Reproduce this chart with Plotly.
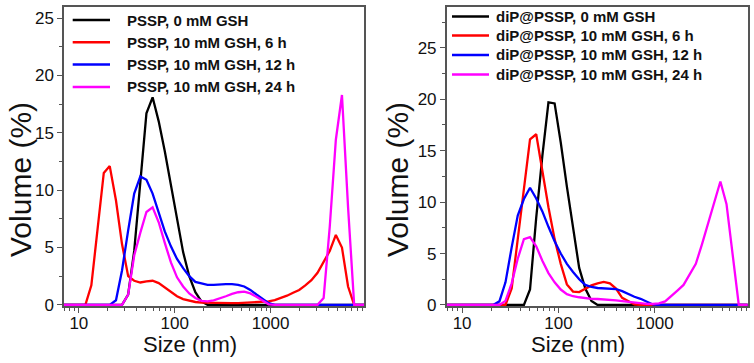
import plotly.graph_objects as go

# Size bins (nm), log-spaced DLS bins
sizes = [4.8, 5.6, 6.5, 7.5, 8.7, 10.1, 11.7, 13.5, 15.7, 18.2,
         21.0, 24.4, 28.2, 32.7, 37.8, 43.8, 50.7, 58.8, 68.1, 78.8,
         91.3, 105.7, 122.4, 141.8, 164.2, 190.1, 220.2, 255.0, 295.3, 342.0,
         396.1, 458.7, 531.2, 615.1, 712.4, 825.0, 955.4, 1106, 1281, 1484,
         1718, 1990, 2305, 2669, 3091, 3580, 4145, 4801, 5560, 6439,
         7456, 8635, 10000]

# Left panel: PSSP
pssp_0 = [0, 0, 0, 0, 0, 0, 0, 0, 0, 0,
          0, 0, 0, 0.9, 4.7, 10.7, 16.7, 18.1, 16.0, 13.4,
          10.4, 7.3, 4.6, 2.5, 1.1, 0.3, 0, 0, 0, 0,
          0, 0, 0, 0, 0, 0, 0, 0, 0, 0,
          0, 0, 0, 0, 0, 0, 0, 0, 0, 0,
          0, 0, 0]
pssp_6h = [0, 0, 0, 0, 0, 0, 0, 1.7, 6.8, 11.5,
           12.1, 9.1, 5.3, 2.5, 2.1, 1.95, 2.05, 2.1, 1.9, 1.5,
           1.1, 0.75, 0.5, 0.35, 0.25, 0.2, 0.18, 0.15, 0.15, 0.15,
           0.15, 0.15, 0.17, 0.18, 0.2, 0.25, 0.3, 0.42, 0.58, 0.8,
           1.05, 1.3, 1.7, 2.15, 2.8, 3.7, 4.7, 6.1, 5.0, 1.6,
           0, 0, 0]
pssp_12h = [0, 0, 0, 0, 0, 0, 0, 0, 0, 0,
            0, 0.4, 3.0, 6.5, 9.7, 11.2, 10.9, 9.7, 8.0, 6.4,
            5.1, 4.0, 3.2, 2.5, 2.0, 1.85, 1.75, 1.75, 1.8, 1.8,
            1.8, 1.75, 1.6, 1.3, 0.9, 0.5, 0.15, 0, 0, 0,
            0, 0, 0, 0, 0, 0, 0, 0, 0, 0,
            0, 0, 0]
pssp_24h = [0, 0, 0, 0, 0, 0, 0, 0, 0, 0,
            0, 0, 0, 0.9, 4.3, 6.3, 8.1, 8.5, 7.2, 5.4,
            3.7, 2.4, 1.6, 1.0, 0.6, 0.35, 0.3, 0.4, 0.55, 0.75,
            0.95, 1.1, 1.15, 1.0, 0.7, 0.35, 0.05, 0, 0, 0,
            0, 0, 0, 0, 0, 0.6, 6.8, 14.4, 18.3, 8.5,
            0, 0, 0]

# Right panel: diP@PSSP
dip_0 = [0, 0, 0, 0, 0, 0, 0, 0, 0, 0,
         0, 0, 0, 0, 0, 0, 1.5, 8.5, 14.5, 19.7,
         19.6, 15.8, 11.5, 7.4, 3.6, 1.6, 0.4, 0, 0, 0,
         0, 0, 0, 0, 0, 0, 0, 0, 0, 0,
         0, 0, 0, 0, 0, 0, 0, 0, 0, 0,
         0, 0, 0]
dip_6h = [0, 0, 0, 0, 0, 0, 0, 0, 0, 0,
          0, 0, 0, 1.6, 6.3, 11.2, 16.1, 16.6, 12.9, 9.5,
          6.4, 4.0, 2.0, 1.3, 1.25, 1.6, 1.9, 2.1, 2.25, 2.1,
          1.6, 0.7, 0.4, 0.05, 0, 0, 0, 0, 0, 0,
          0, 0, 0, 0, 0, 0, 0, 0, 0, 0,
          0, 0, 0]
dip_12h = [0, 0, 0, 0, 0, 0, 0, 0, 0, 0,
           0, 0.35, 2.2, 5.6, 8.7, 10.3, 11.4, 10.35, 9.1, 7.6,
           6.2, 5.0, 4.0, 3.2, 2.5, 1.95, 1.75, 1.65, 1.6, 1.6,
           1.55, 1.35, 1.05, 0.8, 0.6, 0.3, 0.05, 0, 0, 0,
           0, 0, 0, 0, 0, 0, 0, 0, 0, 0,
           0, 0, 0]
dip_24h = [0, 0, 0, 0, 0, 0, 0, 0, 0, 0,
           0, 0, 0.4, 2.1, 4.5, 6.4, 6.6, 5.7, 4.3, 3.1,
           2.2, 1.5, 1.05, 0.85, 0.75, 0.65, 0.6, 0.58, 0.55, 0.5,
           0.45, 0.38, 0.3, 0.22, 0.15, 0.1, 0.1, 0.15, 0.35, 0.85,
           1.4, 1.95, 3.0, 4.0, 5.9, 7.9, 10.0, 12.0, 9.8, 4.6,
           0, 0, 0]

left_names = ["PSSP, 0 mM GSH", "PSSP, 10 mM GSH, 6 h",
              "PSSP, 10 mM GSH, 12 h", "PSSP, 10 mM GSH, 24 h"]
right_names = ["diP@PSSP, 0 mM GSH", "diP@PSSP, 10 mM GSH, 6 h",
               "diP@PSSP, 10 mM GSH, 12 h", "diP@PSSP, 10 mM GSH, 24 h"]
colors = ["#000000", "#ff0000", "#0000ff", "#ff00ff"]

left_series = [pssp_0, pssp_6h, pssp_12h, pssp_24h]
right_series = [dip_0, dip_6h, dip_12h, dip_24h]

W, H = 754, 363
FONT = "Liberation Sans, Arial, sans-serif"

fig = go.Figure()
for name, ys, c in zip(left_names, left_series, colors):
    fig.add_trace(go.Scatter(x=sizes, y=ys, mode="lines", name=name,
                             line=dict(color=c, width=2.3),
                             xaxis="x", yaxis="y", showlegend=False))
for name, ys, c in zip(right_names, right_series, colors):
    fig.add_trace(go.Scatter(x=sizes, y=ys, mode="lines", name=name,
                             line=dict(color=c, width=2.3),
                             xaxis="x2", yaxis="y2", showlegend=False))

axcol = "#555555"
def xax(dom, rng, anchor):
    return dict(domain=dom, type="log", range=rng, anchor=anchor, automargin=False,
                showgrid=False, zeroline=False,
                showline=True, linecolor=axcol, linewidth=1.5, mirror=True,
                ticks="outside", ticklen=5, tickwidth=1.2, tickcolor=axcol,
                ticklabelstandoff=-4,
                tickvals=[10, 100, 1000], ticktext=["10", "100", "1000"],
                minor=dict(ticks="outside", ticklen=3, tickwidth=1, tickcolor=axcol,
                           tickvals=[6, 7, 8, 9, 20, 30, 40, 50, 60, 70, 80, 90,
                                     200, 300, 400, 500, 600, 700, 800, 900,
                                     2000, 3000, 4000, 5000, 6000, 7000, 8000, 9000]),
                tickfont=dict(family=FONT, size=17, color="#111"))

def yax(dom, rng, anchor):
    return dict(domain=dom, range=rng, anchor=anchor, automargin=False,
                showgrid=False, zeroline=False,
                showline=True, linecolor=axcol, linewidth=1.5, mirror=True,
                ticks="outside", ticklen=5, tickwidth=1.2, tickcolor=axcol,
                tick0=0, dtick=5,
                minor=dict(ticks="outside", ticklen=3, tickwidth=1, tickcolor=axcol, dtick=2.5),
                tickfont=dict(family=FONT, size=17, color="#111"))

yd = [1 - 306 / H, 1 - 6.7 / H]
fig.update_layout(
    width=W, height=H, margin=dict(l=0, r=0, t=0, b=0, pad=0),
    paper_bgcolor="white", plot_bgcolor="white",
    xaxis=xax([64 / W, 364 / W], [0.845, 3.975], "y"),
    yaxis=yax(yd, [-0.1, 26.0], "x"),
    xaxis2=xax([446.7 / W, 747.7 / W], [0.84, 3.965], "y2"),
    yaxis2=yax(yd, [-0.1, 29.0], "x2"),
)

annotations = []
shapes = []
# axis titles
for xc in (20, 397):
    annotations.append(dict(text="Volume (%)", x=xc / W, y=1 - 180 / H, xref="paper", yref="paper",
                            showarrow=False, textangle=-90, xanchor="center", yanchor="middle",
                            font=dict(family=FONT, size=30, color="#111")))
for xc in (190, 578):
    annotations.append(dict(text="Size (nm)", x=xc / W, y=1 - 344 / H, xref="paper", yref="paper",
                            showarrow=False, xanchor="center", yanchor="middle",
                            font=dict(family=FONT, size=22, color="#111")))

# manual legends
left_rows = [20, 42.3, 64.5, 87.0]
right_rows = [16.5, 35.5, 55.0, 74.5]
for names, rows, lx0, lx1, tx in ((left_names, left_rows, 72.7, 110, 125),
                                  (right_names, right_rows, 452, 489, 494)):
    for name, py, c in zip(names, rows, colors):
        shapes.append(dict(type="line", xref="paper", yref="paper",
                           x0=lx0 / W, x1=lx1 / W, y0=1 - py / H, y1=1 - py / H,
                           line=dict(color=c, width=2.5)))
        annotations.append(dict(text="<b>" + name + "</b>", x=tx / W, y=1 - py / H,
                                xref="paper", yref="paper", showarrow=False,
                                xanchor="left", yanchor="middle",
                                font=dict(family=FONT, size=15, color="#111")))

fig.update_layout(annotations=annotations, shapes=shapes)
fig.write_html("out.html", config={"displayModeBar": False},
               post_script="document.body.style.margin='0px';document.body.style.overflow='hidden';")
